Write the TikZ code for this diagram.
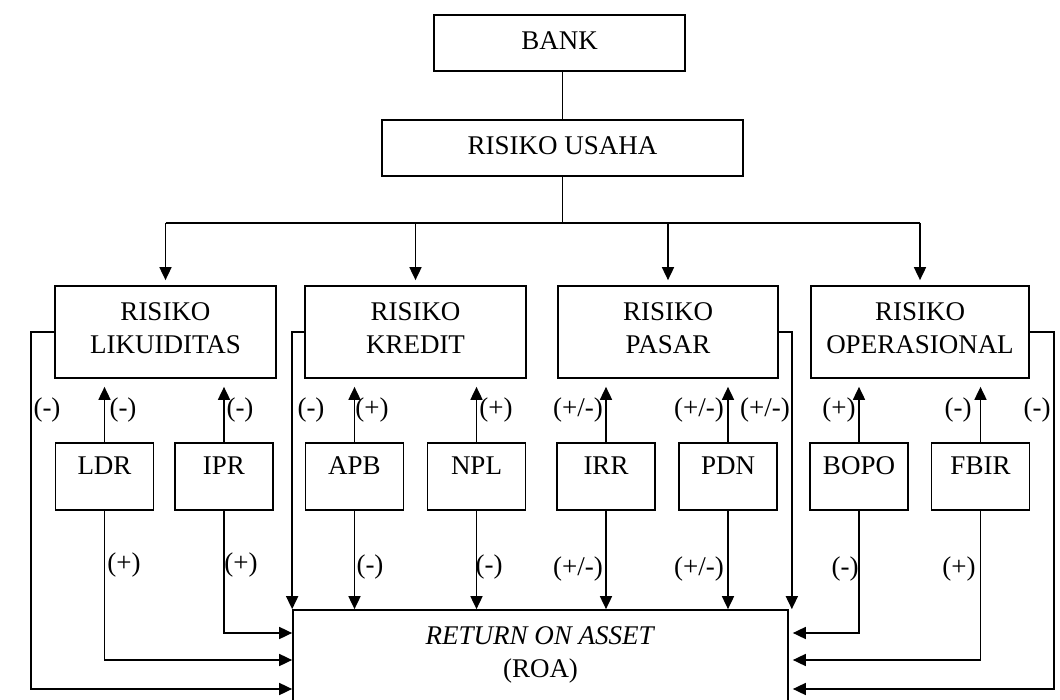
\documentclass[tikz,border=0pt]{standalone}
\usepackage{fontspec}
\setmainfont{Liberation Serif}
\usetikzlibrary{arrows.meta}
\newcommand\diafont{\fontsize{27}{33}\selectfont}
\begin{document}
\begin{tikzpicture}[x=1pt,y=-1pt,
  box/.style={draw, line width=1.7pt, inner sep=0pt, align=center, font=\diafont},
  bigbox/.style={box, minimum height=56pt, text height=17.5pt, text depth=5pt},
  riskbox/.style={box, minimum height=92pt},
  risktext/.style={inner sep=0pt, align=center, font=\diafont, yshift=3.5pt},
  smallbox/.style={draw, line width=1.7pt, inner xsep=0pt, inner ysep=0pt, text height=31pt, text depth=36pt, minimum width=98pt, font=\diafont},
  lbl/.style={inner sep=0pt, font=\diafont},
  conn/.style={line width=1.7pt},
  arr/.style={line width=1.7pt, -{Triangle[length=13pt,width=12pt]}}
]
\fill[white] (0,0) rectangle (1060,700);
\useasboundingbox (0,0) rectangle (1060,700);

% top
\node[bigbox, minimum width=251pt] (bank) at (559.5,43) {BANK};
\node[bigbox, minimum width=361pt] (usaha) at (562.5,148) {RISIKO USAHA};

% risk boxes
\node[riskbox, minimum width=221pt, label={[risktext]center:RISIKO\\LIKUIDITAS}] (lik) at (165.5,332) {};
\node[riskbox, minimum width=221pt, label={[risktext]center:RISIKO\\KREDIT}] (kre) at (415.5,332) {};
\node[riskbox, minimum width=220pt, label={[risktext]center:RISIKO\\PASAR}] (pas) at (668,332) {};
\node[riskbox, minimum width=218pt, label={[risktext]center:RISIKO\\OPERASIONAL}] (ope) at (920,332) {};

% indicator boxes
\node[smallbox] (ldr) at (104.5,476.5) {LDR};
\node[smallbox] (ipr) at (224,476.5) {IPR};
\node[smallbox] (apb) at (354.5,476.5) {APB};
\node[smallbox] (npl) at (476.5,476.5) {NPL};
\node[smallbox] (irr) at (606,476.5) {IRR};
\node[smallbox] (pdn) at (728,476.5) {PDN};
\node[smallbox] (bopo) at (859,476.5) {BOPO};
\node[smallbox] (fbir) at (980.5,476.5) {FBIR};

% ROA
\node[draw, line width=1.7pt, inner sep=0pt, minimum width=495pt, minimum height=100pt] (roa) at (540.5,660) {};
\node[lbl, align=center] (roatext) at (540.5,654.5) {\textit{RETURN ON ASSET}\\(ROA)};

% helper coordinates
\coordinate (bus) at (563,223);
\coordinate (yI) at (0,633);
\coordinate (yL) at (0,660);
\coordinate (yO) at (0,689);

% top connectors
\draw[conn] (usaha.north) -- (usaha.north |- bank.south);
\draw[conn] (usaha.south) -- (usaha.south |- bus);
\draw[conn] (lik.north |- bus) -- (ope.north |- bus);
\foreach \n in {lik,kre,pas,ope}
  \draw[arr, shorten >=5pt] (\n.north |- bus) -- (\n.north);

% indicator -> risk
\draw[arr, shorten >=8pt] (ldr.north) -- (ldr.north |- lik.south);
\draw[arr, shorten >=8pt] (ipr.north) -- (ipr.north |- lik.south);
\draw[arr, shorten >=8pt] (apb.north) -- (apb.north |- kre.south);
\draw[arr, shorten >=8pt] (npl.north) -- (npl.north |- kre.south);
\draw[arr, shorten >=8pt] (irr.north) -- (irr.north |- pas.south);
\draw[arr, shorten >=8pt] (pdn.north) -- (pdn.north |- pas.south);
\draw[arr, shorten >=8pt] (bopo.north) -- (bopo.north |- ope.south);
\draw[arr, shorten >=8pt] (fbir.north) -- (fbir.north |- ope.south);

% indicator -> ROA
\draw[arr] (ipr.south) |- (roa.west |- yI);
\draw[arr] (ldr.south) |- (roa.west |- yL);
\draw[arr] (lik.west) -- ++(-23,0) |- (roa.west |- yO);
\draw[arr] (kre.west) -| (roa.north west);
\draw[arr] (apb.south) -- (apb.south |- roa.north);
\draw[arr] (npl.south) -- (npl.south |- roa.north);
\draw[arr] (irr.south) -- (irr.south |- roa.north);
\draw[arr] (pdn.south) -- (pdn.south |- roa.north);
\draw[arr] (pas.east) -| ([xshift=3pt]roa.north east);
\draw[arr] (bopo.south) |- ([xshift=4pt]roa.east |- yI);
\draw[arr] (fbir.south) |- ([xshift=4pt]roa.east |- yL);
\draw[arr] (ope.east) -- ++(24,0) |- ([xshift=4pt]roa.east |- yO);

% labels upper
\node[lbl] (t1) at (47,410) {(-)};
\node[lbl] (t2) at (123,410) {(-)};
\node[lbl] (t3) at (240,410) {(-)};
\node[lbl] (t4) at (311,410) {(-)};
\node[lbl] (t5) at (372,410) {(+)};
\node[lbl] (t6) at (496,410) {(+)};
\node[lbl] (t7) at (578,410) {(+/-)};
\node[lbl] (t8) at (699,410) {(+/-)};
\node[lbl] (t9) at (765,410) {(+/-)};
\node[lbl] (t10) at (839,410) {(+)};
\node[lbl] (t11) at (958,410) {(-)};
\node[lbl] (t12) at (1037,410) {(-)};

% labels lower
\node[lbl] (b1) at (124,565) {(+)};
\node[lbl] (b2) at (241,565) {(+)};
\node[lbl] (b3) at (370,567) {(-)};
\node[lbl] (b4) at (489,567) {(-)};
\node[lbl] (b5) at (578,569) {(+/-)};
\node[lbl] (b6) at (699,569) {(+/-)};
\node[lbl] (b7) at (845,569) {(-)};
\node[lbl] (b8) at (959,569) {(+)};
\end{tikzpicture}
\end{document}
